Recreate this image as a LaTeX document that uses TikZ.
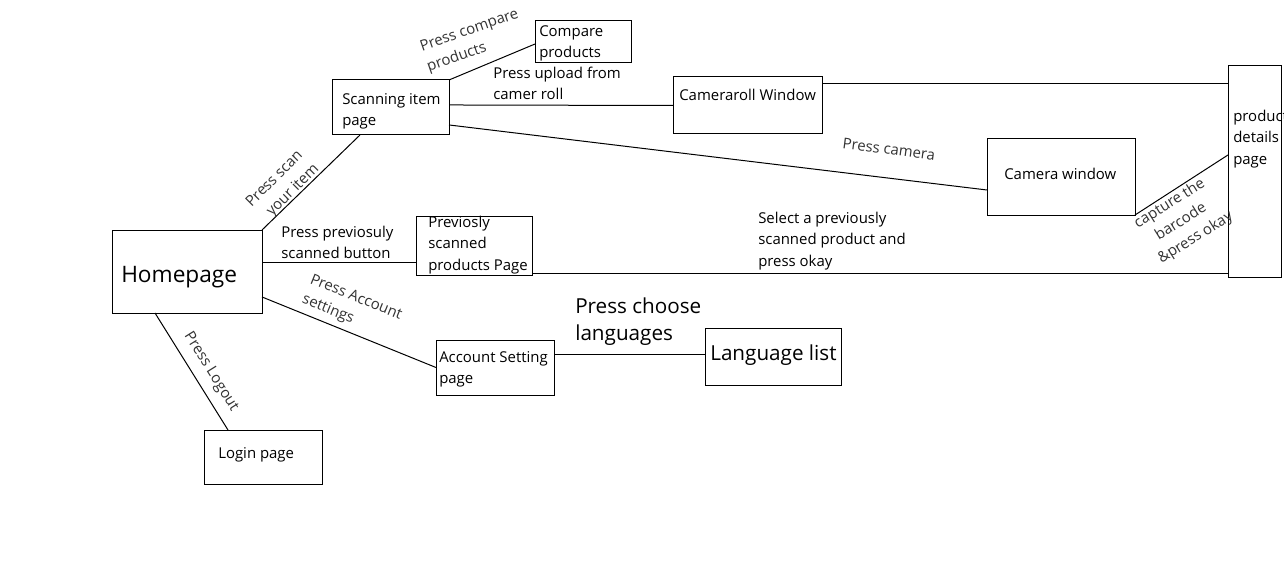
\documentclass[tikz,border=0pt]{standalone}
\usepackage{fontspec}
\setmainfont{Open Sans}
\usetikzlibrary{calc}
\begin{document}
\begin{tikzpicture}[x=0.75pt,y=-0.75pt,
  box/.style={draw, line width=0.75pt, inner sep=0pt, outer sep=0pt},
  txt/.style={inner sep=0pt, anchor=north west, align=left, font=\fontsize{11.2}{15.9}\selectfont},
  bigtxt/.style={inner sep=0pt, anchor=north west, align=left, font=\fontsize{15.5}{20}\selectfont},
  lbl/.style={inner sep=0pt, align=left, text=black!80, font=\fontsize{11.2}{15.9}\selectfont},
  link/.style={line width=0.75pt}]
\useasboundingbox (0,0) rectangle (1284,588);
% boxes
\node[box, minimum width=72pt, minimum height=31.5pt] (comp) at (583,42) {};
\node[box, minimum width=87.75pt, minimum height=41.25pt] (scan) at (390.5,107.5) {};
\node[box, minimum width=111.75pt, minimum height=42.75pt] (cr) at (747.5,105.5) {};
\node[box, minimum width=39.75pt, minimum height=158.25pt] (pd) at (1254.5,171.5) {};
\node[box, minimum width=111pt, minimum height=57pt] (cam) at (1061,177) {};
\node[box, minimum width=112.5pt, minimum height=62.25pt] (hp) at (187,271.5) {};
\node[box, minimum width=87pt, minimum height=44.25pt] (prev) at (474,245.5) {};
\node[box, minimum width=88.5pt, minimum height=41.25pt] (acc) at (495,367.5) {};
\node[box, minimum width=102pt, minimum height=42.75pt] (lang) at (773,356.5) {};
\node[box, minimum width=88.5pt, minimum height=40.5pt] (login) at (263,457) {};
% box texts
\node[txt] (tcomp) at (539,25) {Compare\\products};
\node[txt] (tscan) at (342,93) {Scanning item\\page};
\node[txt] (tcr) at (679,89) {Cameraroll Window};
\node[txt] (tcam) at (1004,168) {Camera window};
\node[txt] (tpd) at (1233,110) {product\\details\\page};
\node[inner sep=0pt, anchor=north west, font=\fontsize{17}{20}\selectfont] (thp) at (121,266) {Homepage};
\node[txt] (tprev) at (428,216) {Previosly\\scanned\\products Page};
\node[txt] (tacc) at (439,351) {Account Setting\\page};
\node[bigtxt] (tlang) at (710,345) {Language list};
\node[txt] (tlogin) at (218,447) {Login page};
% connectors
\draw[link] (hp.north east) -- ([xshift=21pt]scan.south west);
\draw[link] ([yshift=7.1pt]hp.east) -- ([yshift=7.1pt]hp.east -| prev.west);
\draw[link] ([yshift=-19.1pt]hp.east) -- (acc.west);
\draw[link] ([xshift=32.25pt]hp.south west) -- ([xshift=18pt]login.north west);
\draw[link] ([yshift=10pt]acc.east) -- ([yshift=10pt]acc.east -| lang.west);
\draw[link] (scan.north east) -- ([yshift=-1.5pt]comp.west);
\draw[link] ([yshift=1.9pt]scan.east) -- (cr.west);
\draw[link] ([yshift=-13.1pt]scan.east) -- ([yshift=-9.75pt]cam.west);
\draw[link] ([yshift=-5.25pt]cr.north east) -- ([yshift=-5.25pt]cr.north east -| pd.west);
\draw[link] (cam.south east) -- ([yshift=12.4pt]pd.west);
\draw[link] ([yshift=1.5pt]prev.south east) -- ([yshift=1.5pt]prev.south east -| pd.west);
% labels
\node[lbl, rotate=19] (lcomp) at (473,41) {Press compare\\products};
\node[txt] (lup) at (493,67) {Press upload from\\camer roll};
\node[lbl, rotate=45] (lscan) at (283,186) {Press scan\\\ \ your item};
\node[txt] (lprev) at (281,226) {Press previosuly\\scanned button};
\node[lbl, rotate=-22] (lacc) at (352,308) {Press Account\\settings};
\node[lbl, rotate=-58] (llog) at (211,372) {Press Logout};
\node[bigtxt] (llang) at (575,298) {Press choose\\languages};
\node[lbl, rotate=-7.5] (lcam) at (889,149) {Press camera};
\node[txt] (lsel) at (758,212) {Select a previously\\scanned product and\\press okay};
\node[lbl, rotate=32, align=center] (lcap) at (1181,222) {capture the\\barcode\\\ \ \&press okay};
\end{tikzpicture}
\end{document}
